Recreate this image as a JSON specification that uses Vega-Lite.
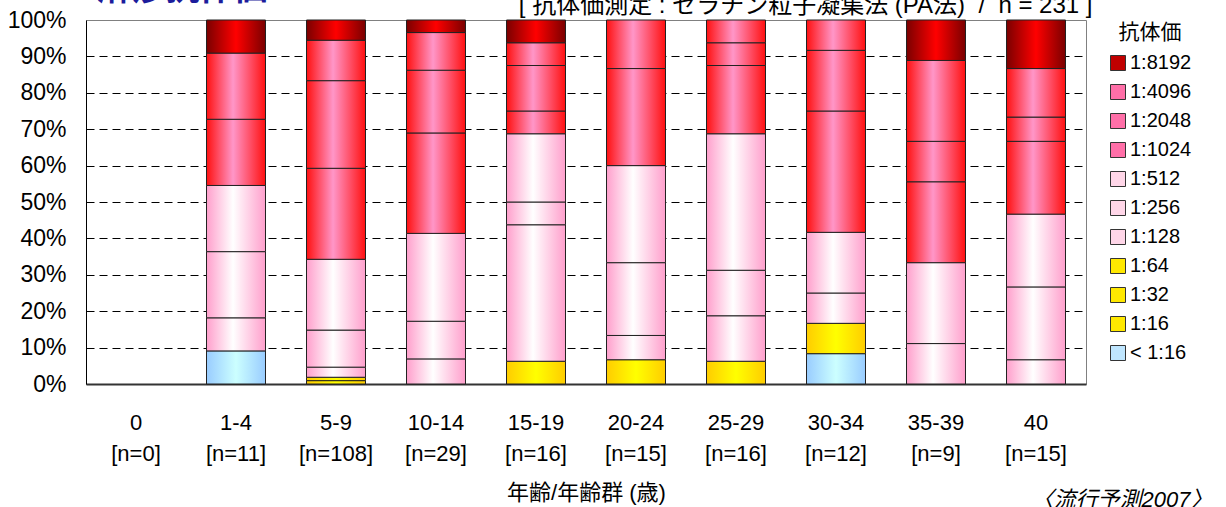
{
  "$schema": "https://vega.github.io/schema/vega-lite/v6.json",
  "autosize": "none",
  "padding": {"left": 86, "top": 20, "right": 140, "bottom": 123},
  "width": 1000,
  "height": 364,
  "background": "white",
  "config": {
    "font": "Liberation Sans, Noto Sans CJK JP",
    "view": {"stroke": "#808080", "strokeWidth": 1},
    "axis": {"labelColor": "#000", "titleColor": "#000", "titleFontWeight": "normal"}
  },
  "data": {
    "values": [
      {"age": "1-4", "titer": "< 1:16", "rank": 1, "count": 1},
      {"age": "1-4", "titer": "1:128", "rank": 5, "count": 1},
      {"age": "1-4", "titer": "1:256", "rank": 6, "count": 2},
      {"age": "1-4", "titer": "1:512", "rank": 7, "count": 2},
      {"age": "1-4", "titer": "1:1024", "rank": 8, "count": 2},
      {"age": "1-4", "titer": "1:2048", "rank": 9, "count": 2},
      {"age": "1-4", "titer": "1:8192", "rank": 11, "count": 1},
      {"age": "5-9", "titer": "1:32", "rank": 3, "count": 1},
      {"age": "5-9", "titer": "1:64", "rank": 4, "count": 1},
      {"age": "5-9", "titer": "1:128", "rank": 5, "count": 3},
      {"age": "5-9", "titer": "1:256", "rank": 6, "count": 11},
      {"age": "5-9", "titer": "1:512", "rank": 7, "count": 21},
      {"age": "5-9", "titer": "1:1024", "rank": 8, "count": 27},
      {"age": "5-9", "titer": "1:2048", "rank": 9, "count": 26},
      {"age": "5-9", "titer": "1:4096", "rank": 10, "count": 12},
      {"age": "5-9", "titer": "1:8192", "rank": 11, "count": 6},
      {"age": "10-14", "titer": "1:128", "rank": 5, "count": 2},
      {"age": "10-14", "titer": "1:256", "rank": 6, "count": 3},
      {"age": "10-14", "titer": "1:512", "rank": 7, "count": 7},
      {"age": "10-14", "titer": "1:1024", "rank": 8, "count": 8},
      {"age": "10-14", "titer": "1:2048", "rank": 9, "count": 5},
      {"age": "10-14", "titer": "1:4096", "rank": 10, "count": 3},
      {"age": "10-14", "titer": "1:8192", "rank": 11, "count": 1},
      {"age": "15-19", "titer": "1:64", "rank": 4, "count": 1},
      {"age": "15-19", "titer": "1:128", "rank": 5, "count": 6},
      {"age": "15-19", "titer": "1:256", "rank": 6, "count": 1},
      {"age": "15-19", "titer": "1:512", "rank": 7, "count": 3},
      {"age": "15-19", "titer": "1:1024", "rank": 8, "count": 1},
      {"age": "15-19", "titer": "1:2048", "rank": 9, "count": 2},
      {"age": "15-19", "titer": "1:4096", "rank": 10, "count": 1},
      {"age": "15-19", "titer": "1:8192", "rank": 11, "count": 1},
      {"age": "20-24", "titer": "1:64", "rank": 4, "count": 1},
      {"age": "20-24", "titer": "1:128", "rank": 5, "count": 1},
      {"age": "20-24", "titer": "1:256", "rank": 6, "count": 3},
      {"age": "20-24", "titer": "1:512", "rank": 7, "count": 4},
      {"age": "20-24", "titer": "1:2048", "rank": 9, "count": 4},
      {"age": "20-24", "titer": "1:4096", "rank": 10, "count": 2},
      {"age": "25-29", "titer": "1:64", "rank": 4, "count": 1},
      {"age": "25-29", "titer": "1:128", "rank": 5, "count": 2},
      {"age": "25-29", "titer": "1:256", "rank": 6, "count": 2},
      {"age": "25-29", "titer": "1:512", "rank": 7, "count": 6},
      {"age": "25-29", "titer": "1:1024", "rank": 8, "count": 3},
      {"age": "25-29", "titer": "1:2048", "rank": 9, "count": 1},
      {"age": "25-29", "titer": "1:4096", "rank": 10, "count": 1},
      {"age": "30-34", "titer": "< 1:16", "rank": 1, "count": 1},
      {"age": "30-34", "titer": "1:64", "rank": 4, "count": 1},
      {"age": "30-34", "titer": "1:256", "rank": 6, "count": 1},
      {"age": "30-34", "titer": "1:512", "rank": 7, "count": 2},
      {"age": "30-34", "titer": "1:1024", "rank": 8, "count": 4},
      {"age": "30-34", "titer": "1:2048", "rank": 9, "count": 2},
      {"age": "30-34", "titer": "1:4096", "rank": 10, "count": 1},
      {"age": "35-39", "titer": "1:128", "rank": 5, "count": 1},
      {"age": "35-39", "titer": "1:512", "rank": 7, "count": 2},
      {"age": "35-39", "titer": "1:1024", "rank": 8, "count": 2},
      {"age": "35-39", "titer": "1:2048", "rank": 9, "count": 1},
      {"age": "35-39", "titer": "1:4096", "rank": 10, "count": 2},
      {"age": "35-39", "titer": "1:8192", "rank": 11, "count": 1},
      {"age": "40", "titer": "1:128", "rank": 5, "count": 1},
      {"age": "40", "titer": "1:256", "rank": 6, "count": 3},
      {"age": "40", "titer": "1:512", "rank": 7, "count": 3},
      {"age": "40", "titer": "1:1024", "rank": 8, "count": 3},
      {"age": "40", "titer": "1:2048", "rank": 9, "count": 1},
      {"age": "40", "titer": "1:4096", "rank": 10, "count": 2},
      {"age": "40", "titer": "1:8192", "rank": 11, "count": 2}
    ]
  },
  "resolve": {"axis": {"x": "independent", "y": "independent"}},
  "layer": [
    {
      "mark": {"type": "bar", "stroke": "#222", "strokeWidth": 1},
      "encoding": {
        "x": {
          "field": "age",
          "type": "nominal",
          "sort": null,
          "scale": {
            "domain": ["0", "1-4", "5-9", "10-14", "15-19", "20-24", "25-29", "30-34", "35-39", "40"],
            "paddingInner": 0.41,
            "paddingOuter": 0.205
          },
          "axis": {
            "orient": "bottom",
            "labelExpr": "[datum.value, {'0':'[n=0]','1-4':'[n=11]','5-9':'[n=108]','10-14':'[n=29]','15-19':'[n=16]','20-24':'[n=15]','25-29':'[n=16]','30-34':'[n=12]','35-39':'[n=9]','40':'[n=15]'}[datum.value]]",
            "labelFontSize": 22,
            "labelAngle": 0,
            "labelPadding": 28,
            "labelLineHeight": 31,
            "labelBaseline": "top",
            "ticks": false,
            "domainColor": "#333",
            "domainWidth": 2,
            "title": "年齢/年齢群 (歳)",
            "titleFontSize": 22,
            "titlePadding": 18
          }
        },
        "y": {
          "field": "count",
          "type": "quantitative",
          "stack": "normalize",
          "scale": {"domain": [0, 1]},
          "axis": {
            "orient": "left",
            "values": [0, 0.1, 0.2, 0.3, 0.4, 0.5, 0.6, 0.7, 0.8, 0.9, 1],
            "format": ".0%",
            "labelFontSize": 23,
            "labelPadding": 20,
            "ticks": false,
            "domainColor": "#000",
            "grid": true,
            "gridColor": "#000",
            "gridDash": [8, 5],
            "gridOpacity": {"condition": {"test": "datum.value >= 1 || datum.value <= 0", "value": 0}, "value": 1},
            "title": "[ 抗体価測定 : ゼラチン粒子凝集法 (PA法)\u00a0\u00a0/\u00a0\u00a0n = 231 ]",
            "titleFontSize": 24,
            "titleAngle": 0,
            "titleAlign": "right",
            "titleBaseline": "alphabetic",
            "titleX": 1006,
            "titleY": -8
          }
        },
        "order": {"field": "rank", "type": "quantitative", "sort": "ascending"},
        "fill": {
          "field": "titer",
          "type": "nominal",
          "condition": [
            {"test": "datum.rank == 11", "value": {"gradient": "linear", "x1": 0, "y1": 0, "x2": 1, "y2": 0, "stops": [{"offset": 0, "color": "#7a0000"}, {"offset": 0.5, "color": "#ff0000"}, {"offset": 1, "color": "#7a0000"}]}},
            {"test": "datum.rank >= 8", "value": {"gradient": "linear", "x1": 0, "y1": 0, "x2": 1, "y2": 0, "stops": [{"offset": 0, "color": "#ff1010"}, {"offset": 0.45, "color": "#ff96c8"}, {"offset": 1, "color": "#ff1010"}]}},
            {"test": "datum.rank >= 5", "value": {"gradient": "linear", "x1": 0, "y1": 0, "x2": 1, "y2": 0, "stops": [{"offset": 0, "color": "#ff9fcc"}, {"offset": 0.45, "color": "#ffffff"}, {"offset": 1, "color": "#ff9fcc"}]}},
            {"test": "datum.rank >= 2", "value": {"gradient": "linear", "x1": 0, "y1": 0, "x2": 1, "y2": 0, "stops": [{"offset": 0, "color": "#ffcc00"}, {"offset": 0.5, "color": "#ffff00"}, {"offset": 1, "color": "#ffcc00"}]}},
            {"test": "datum.rank == 1", "value": {"gradient": "linear", "x1": 0, "y1": 0, "x2": 1, "y2": 0, "stops": [{"offset": 0, "color": "#99ccff"}, {"offset": 0.5, "color": "#ccffff"}, {"offset": 1, "color": "#99ccff"}]}}
          ],
          "scale": {
            "domain": ["1:8192", "1:4096", "1:2048", "1:1024", "1:512", "1:256", "1:128", "1:64", "1:32", "1:16", "< 1:16"],
            "range": ["#c00000", "#ff6fa8", "#ff6fa8", "#ff6fa8", "#ffd6e8", "#ffd6e8", "#ffd6e8", "#ffe800", "#ffe800", "#ffe800", "#bfe6ff"]
          },
          "legend": {
            "orient": "none",
            "legendX": 1022,
            "legendY": 2,
            "padding": 0,
            "title": "抗体価",
            "titleFontSize": 21,
            "titleFontWeight": "normal",
            "titleColor": "#000",
            "titleAnchor": "middle",
            "titlePadding": 10,
            "labelFontSize": 20,
            "labelColor": "#000",
            "labelOffset": 2,
            "symbolType": "square",
            "symbolSize": 225,
            "symbolStrokeColor": "#333",
            "symbolStrokeWidth": 1,
            "rowPadding": 9
          }
        }
      }
    },
    {
      "mark": {"type": "bar", "opacity": 0},
      "encoding": {
        "x": {
          "field": "age",
          "type": "nominal",
          "sort": null,
          "axis": {
            "orient": "top",
            "labels": false,
            "ticks": false,
            "domain": false,
            "grid": false,
            "title": "麻疹抗体価",
            "titleFontSize": 34,
            "titleFontWeight": "bold",
            "titleColor": "#1c1c9c",
            "titleAngle": 0,
            "titleAlign": "left",
            "titleBaseline": "alphabetic",
            "titleX": 11,
            "titleY": -21
          }
        },
        "y": {
          "field": "count",
          "type": "quantitative",
          "stack": "normalize",
          "axis": {
            "orient": "right",
            "labels": false,
            "ticks": false,
            "domain": false,
            "grid": false,
            "title": "〈流行予測2007〉",
            "titleFontSize": 22,
            "titleFontStyle": "italic",
            "titleAngle": 0,
            "titleAlign": "right",
            "titleBaseline": "middle",
            "titleX": 126,
            "titleY": 479
          }
        },
        "order": {"field": "rank", "type": "quantitative", "sort": "ascending"}
      }
    }
  ]
}
